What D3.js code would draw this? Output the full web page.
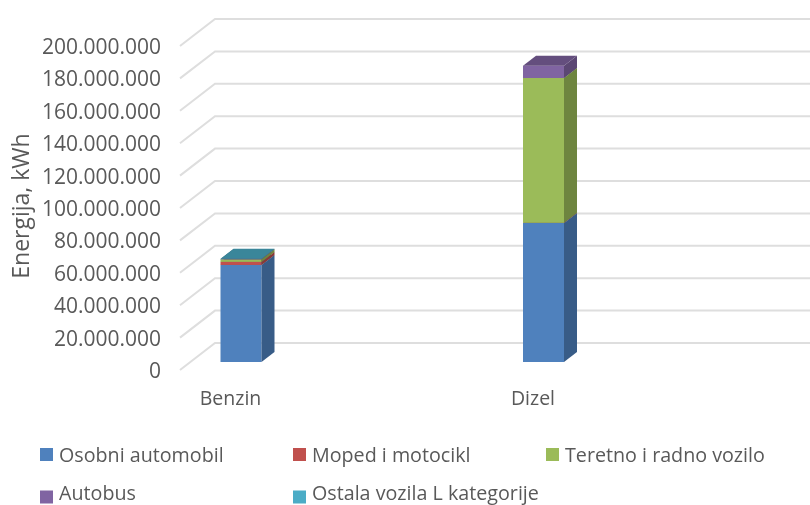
<!DOCTYPE html>
<html>
<head>
<meta charset="utf-8">
<script src="https://cdn.jsdelivr.net/npm/d3@7"></script>
<style>
  html, body { margin: 0; padding: 0; background: #fff; }
  svg { display: block; filter: blur(0.45px); }
  text { font-family: "Open Sans", sans-serif; fill: #595959; }
</style>
</head>
<body>
<div id="container"></div>
<script>
(function() {

let categories = ["Benzin", "Dizel"];
let seriesNames = ["Osobni automobil", "Moped i motocikl", "Teretno i radno vozilo", "Autobus", "Ostala vozila L kategorije"];
let seriesColors = ["#4f81bd", "#c0504d", "#9bbb59", "#8064a2", "#4bacc6"];
let benzinValues = [59900000, 1900000, 1600000, 100000, 200000];
let dizelValues = [85800000, 100000, 89400000, 7600000, 0];
let tickValues = [0, 20000000, 40000000, 60000000, 80000000, 100000000, 120000000, 140000000, 160000000, 180000000, 200000000];

let width = 810;
let height = 505;

let svg = d3.select("#container")
  .append("svg")
    .attr("width", width)
    .attr("height", height);

let x = d3.scalePoint().domain(categories).range([241, 543.5]);
let y = d3.scaleLinear().domain([0, 200000000]).range([362, 38]);

// Depth of the 3D walls and of the bars
let wall = { left: 180, right: 215, up: 19, down: 8 };
let bar = { width: 41, dx: 13, dy: 10 };

// Gridlines: diagonal on the side wall, straight on the back wall
let grid = svg.append("g")
  .attr("stroke", "#dedede")
  .attr("stroke-width", 2)
  .attr("fill", "none");
grid.selectAll("path")
  .data(tickValues)
  .enter()
  .append("path")
    .attr("d", (d) => "M" + wall.left + "," + (y(d) + wall.down)
      + "L" + wall.right + "," + (y(d) - wall.up)
      + "L" + width + "," + (y(d) - wall.up));

// Axis labels
let locale = d3.formatLocale({ decimal: ",", thousands: ".", grouping: [3], currency: ["", ""] });
let axis = svg.append("g")
  .attr("transform", "translate(161," + (wall.down + 0.8) + ")")
  .call(d3.axisLeft(y).tickValues(tickValues).tickFormat(locale.format(",")).tickSize(0).tickPadding(0));
axis.select(".domain").remove();
axis.selectAll("text")
  .style("font-size", "21px")
  .style("font-family", "'Open Sans', sans-serif")
  .style("fill", "#595959");

svg.append("text")
  .attr("transform", "translate(29,206) rotate(-90)")
  .attr("text-anchor", "middle")
  .style("font-size", "23px")
  .text("Energija, kWh");

// Category labels sit on the front of the floor
svg.append("g")
  .selectAll("text")
  .data(categories)
  .enter()
  .append("text")
    .attr("x", (d) => x(d) - 10.5)
    .attr("y", 405)
    .attr("text-anchor", "middle")
    .style("font-size", "19.5px")
    .text((d) => d);

// Stacked bars
let rows = categories.map((c, i) => {
  let values = i === 0 ? benzinValues : dizelValues;
  let row = { category: c };
  seriesNames.forEach((s, j) => { row[s] = values[j]; });
  return row;
});
let stacked = d3.stack().keys(seriesNames)(rows);
let color = d3.scaleOrdinal().domain(seriesNames).range(seriesColors);

stacked.forEach((layer) => {
  layer.forEach((d) => {
    if (d[1] <= d[0]) {
      return;
    }
    let cx = x(d.data.category);
    let left = cx - bar.width / 2;
    let right = cx + bar.width / 2;
    let base = color(layer.key);
    let g = svg.append("g");
    g.append("rect")
      .attr("x", left)
      .attr("y", y(d[1]))
      .attr("width", bar.width)
      .attr("height", y(d[0]) - y(d[1]))
      .attr("fill", base);
    g.append("path")
      .attr("d", "M" + right + "," + y(d[0])
        + "L" + (right + bar.dx) + "," + (y(d[0]) - bar.dy)
        + "L" + (right + bar.dx) + "," + (y(d[1]) - bar.dy)
        + "L" + right + "," + y(d[1]) + "Z")
      .attr("fill", d3.color(base).darker(0.95));
    g.append("path")
      .attr("d", "M" + left + "," + y(d[1])
        + "L" + (left + bar.dx) + "," + (y(d[1]) - bar.dy)
        + "L" + (right + bar.dx) + "," + (y(d[1]) - bar.dy)
        + "L" + right + "," + y(d[1]) + "Z")
      .attr("fill", d3.color(base).darker(0.7));
  });
});

// Legend
let legendX = d3.scalePoint().domain([0, 1, 2]).range([40, 546]);
let legendY = d3.scalePoint().domain([0, 1]).range([454, 496.5]);
let legend = svg.append("g")
  .selectAll("g")
  .data(seriesNames)
  .enter()
  .append("g")
    .attr("transform", (d, i) => "translate(" + legendX(i % 3) + "," + legendY(Math.floor(i / 3)) + ")");
legend.append("rect")
  .attr("y", -6)
  .attr("width", 13)
  .attr("height", 13)
  .attr("fill", (d) => color(d));
legend.append("text")
  .attr("x", 19)
  .attr("y", (d, i) => i < 3 ? 7.5 : 3.5)
  .style("font-size", "19.7px")
  .text((d) => d);

})();
</script>
</body>
</html>
